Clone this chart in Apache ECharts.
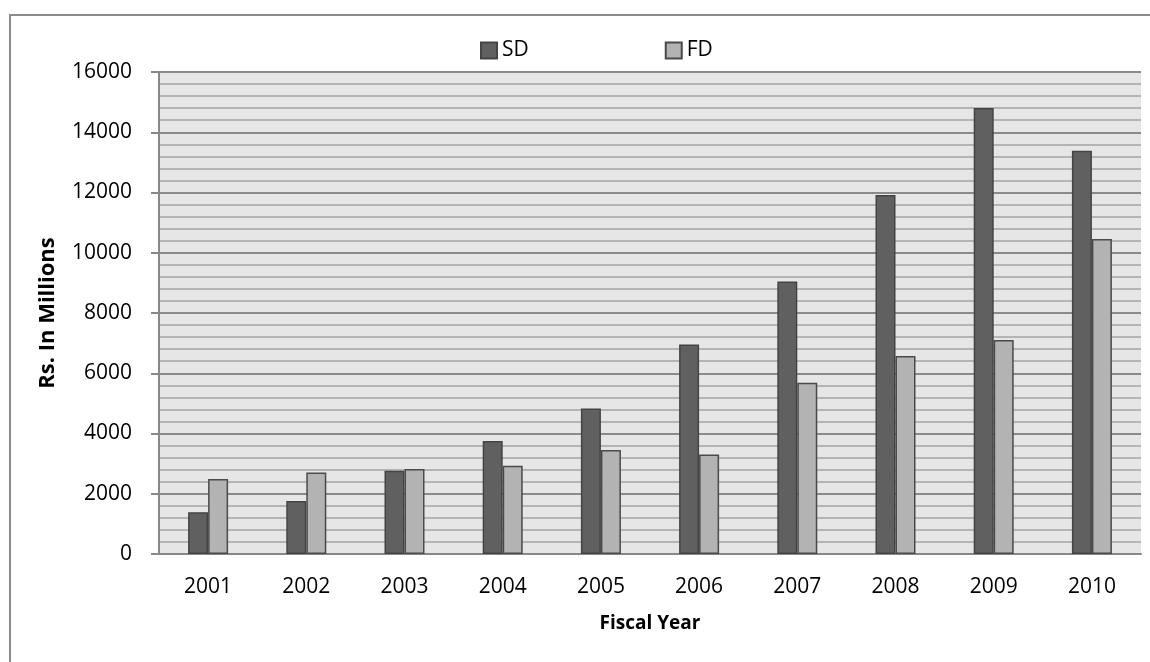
<!DOCTYPE html>
<html>
<head>
<meta charset="utf-8">
<script src="https://cdn.jsdelivr.net/npm/echarts@6/dist/echarts.min.js"></script>
<style>
html,body{margin:0;padding:0;background:#fff;}
#c{width:1150px;height:662px;}
</style>
</head>
<body>
<div id="c"></div>
<script>
const categories = ['2001','2002','2003','2004','2005','2006','2007','2008','2009','2010'];
const sdValues = [1390, 1760, 2765, 3750, 4830, 6955, 9045, 11915, 14805, 13385];
const fdValues = [2490, 2705, 2820, 2930, 3450, 3305, 5685, 6570, 7105, 10455];
const seriesNames = ['SD', 'FD'];
const yTicks = { min: 0, max: 16000, interval: 2000 };

const FONT = '"Open Sans", "Liberation Sans", sans-serif';
const chart = echarts.init(document.getElementById('c'), null, { renderer: 'canvas' });
chart.setOption({
  animation: false,
  backgroundColor: '#ffffff',
  graphic: [{
    type: 'polyline',
    shape: { points: [[10, 700], [10, 15], [1200, 15]] },
    style: { stroke: '#8c8c8c', lineWidth: 2, fill: null },
    silent: true
  }],
  legend: {
    data: seriesNames,
    left: 475,
    top: 35,
    itemWidth: 16,
    itemHeight: 16,
    itemGap: 136,
    icon: 'rect',
    textStyle: { fontFamily: FONT, fontSize: 21, color: '#000' }
  },
  grid: {
    left: 159, top: 72, right: 9, bottom: 108,
    show: true, backgroundColor: '#e6e6e6', borderWidth: 0
  },
  xAxis: {
    type: 'category',
    data: categories,
    name: 'Fiscal Year',
    nameLocation: 'middle',
    nameGap: 60,
    nameTextStyle: { fontFamily: FONT, fontSize: 19, fontWeight: 'bold', color: '#000' },
    axisLine: { show: true, lineStyle: { color: '#888', width: 2 } },
    axisTick: { show: false },
    axisLabel: { fontFamily: FONT, fontSize: 21, color: '#000', margin: 23 },
    splitLine: { show: false }
  },
  yAxis: {
    type: 'value',
    min: yTicks.min, max: yTicks.max, interval: yTicks.interval,
    name: 'Rs. In Millions',
    nameLocation: 'middle',
    nameGap: 100,
    nameRotate: 90,
    nameTextStyle: { fontFamily: FONT, fontSize: 22, fontWeight: 'bold', color: '#000' },
    axisLine: { show: true, lineStyle: { color: '#888', width: 2 } },
    axisTick: { show: true, length: 8, lineStyle: { color: '#888', width: 2 } },
    axisLabel: { fontFamily: FONT, fontSize: 21, color: '#000', margin: 27, formatter: function (v) { return String(v); } },
    splitLine: { show: true, lineStyle: { color: '#8a8a8a', width: 2 } },
    minorTick: { show: false, splitNumber: 5 },
    minorSplitLine: { show: true, lineStyle: { color: '#b4b4b4', width: 2 } }
  },
  series: [
    {
      name: seriesNames[0], type: 'bar', data: sdValues,
      barWidth: 20, barGap: '0%',
      itemStyle: { color: '#606060', borderColor: '#444444', borderWidth: 1.5 }
    },
    {
      name: seriesNames[1], type: 'bar', data: fdValues,
      barWidth: 20, barGap: '0%',
      itemStyle: { color: '#b3b3b3', borderColor: '#4a4a4a', borderWidth: 1.5 }
    }
  ]
});
</script>
</body>
</html>
